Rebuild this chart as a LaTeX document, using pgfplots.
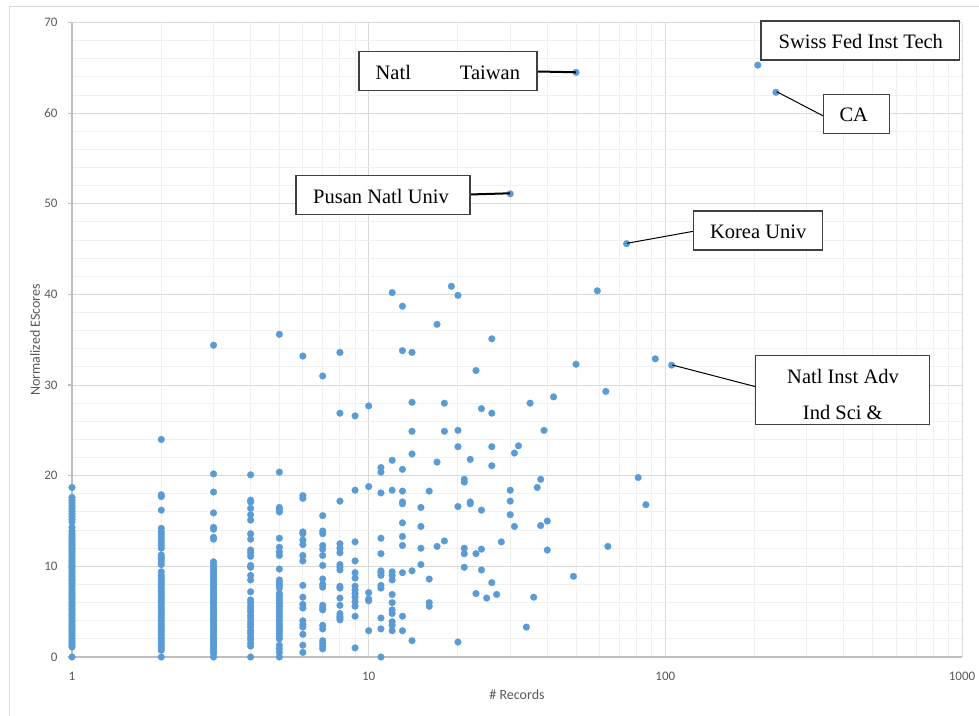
\documentclass[border=0pt]{standalone}
\usepackage{pgfplots}
\pgfplotsset{compat=1.18}
\usepackage{fontspec}
\setmainfont{Liberation Serif}
\newfontfamily\calib{Carlito}
\definecolor{ptblue}{HTML}{5B9BD5}
\definecolor{gridmaj}{HTML}{D9D9D9}
\definecolor{gridmin}{HTML}{F0F0F0}
\definecolor{axgray}{HTML}{BFBFBF}
\definecolor{tickgray}{HTML}{595959}
\definecolor{boxc}{HTML}{404040}
\begin{document}
\begin{tikzpicture}
\path[use as bounding box] (0,0) rectangle (489.5pt,358pt);
\begin{scope}[x=0.5pt,y=-0.5pt,yshift=358pt]
\draw[color=gridmaj,line width=0.5pt] (9,7) rectangle (1010,760);
\end{scope}
\begin{axis}[
  at={(36pt,29.5pt)}, anchor=south west,
  scale only axis, width=445pt, height=317.25pt,
  xmode=log, xmin=1, xmax=1000, ymin=0, ymax=70,
  xtick={1,10,100,1000}, xticklabels={1,10,100,1000},
  ytick={0,10,20,30,40,50,60,70},
  minor y tick num=4,
  grid=both,
  major grid style={color=gridmaj,line width=0.5pt},
  minor grid style={color=gridmin,line width=0.5pt},
  axis x line*=bottom, axis y line*=left,
  axis line style={draw=axgray,line width=1.1pt,-},
  tick align=outside,
  major tick length=2.2pt, minor tick length=0pt,
  tick style={color=axgray,line width=0.6pt},
  xtick style={draw=none},
  ticklabel style={font=\calib\fontsize{6.5}{7}\selectfont,text=tickgray},
  /pgf/number format/assume math mode=true,
  /pgf/number format/1000 sep={},
  yticklabel style={xshift=-1.5pt},
  xticklabel style={yshift=-2pt},
  xlabel={\# Records}, ylabel={Normalized EScores},
  label style={font=\calib\fontsize{7}{8}\selectfont,text=tickgray},
  xlabel style={at={(axis description cs:0.5,-0.0599)},anchor=center},
  ylabel style={at={(axis description cs:-0.0416,0.5)},anchor=center},
  clip mode=individual,
]
\addplot[only marks, mark=*, color=ptblue, mark size=1.7pt, mark options={fill=ptblue,draw=ptblue,line width=0.1pt}] coordinates {
(1,0) (1,1.1) (1,1.35) (1,1.6) (1,1.85) (1,2.1) (1,2.35) (1,2.6) (1,2.85) (1,3.1) (1,3.35) (1,3.6) (1,3.85) (1,4.1) (1,4.35) (1,4.6) (1,4.85) (1,5.1) (1,5.35) (1,5.6) (1,5.85) (1,6.1) (1,6.35) (1,6.6) (1,6.85) (1,7.1) (1,7.35) (1,7.6) (1,7.85) (1,8.1) (1,8.35) (1,8.6) (1,8.85) (1,9.1) (1,9.35) (1,9.6) (1,9.85) (1,10.1) (1,10.35) (1,10.6) (1,10.85) (1,11.1) (1,11.35) (1,11.6) (1,11.85) (1,12.1) (1,12.35) (1,12.6) (1,12.85) (1,13.1) (1,13.35) (1,13.6) (1,13.9) (1,14.3) (1,14.9) (1,15.2) (1,15.5) (1,15.8) (1,16.1) (1,16.4) (1,16.7) (1,17.0) (1,17.3) (1,17.6) (1,18.7)
(2,0) (2,0.75) (2,1.0) (2,1.25) (2,1.5) (2,1.75) (2,2.0) (2,2.25) (2,2.5) (2,2.75) (2,3.0) (2,3.25) (2,3.5) (2,3.75) (2,4.0) (2,4.25) (2,4.5) (2,4.75) (2,5.0) (2,5.25) (2,5.5) (2,5.75) (2,6.0) (2,6.25) (2,6.5) (2,6.75) (2,7.0) (2,7.25) (2,7.5) (2,7.75) (2,8.0) (2,8.25) (2,8.5) (2,8.75) (2,9.0) (2,9.4) (2,10.2) (2,10.5) (2,10.8) (2,11.0) (2,11.25) (2,12.0) (2,12.3) (2,12.6) (2,12.9) (2,13.2) (2,13.5) (2,13.8) (2,14.2) (2,16.2) (2,17.7) (2,17.9) (2,24.0)
(3,0) (3,0.4) (3,0.65) (3,0.9) (3,1.15) (3,1.4) (3,1.65) (3,1.9) (3,2.15) (3,2.4) (3,2.65) (3,2.9) (3,3.15) (3,3.4) (3,3.65) (3,3.9) (3,4.15) (3,4.4) (3,4.65) (3,4.9) (3,5.15) (3,5.4) (3,5.65) (3,5.9) (3,6.15) (3,6.4) (3,6.65) (3,6.9) (3,7.15) (3,7.4) (3,7.65) (3,7.9) (3,8.15) (3,8.4) (3,8.65) (3,8.9) (3,9.15) (3,9.4) (3,9.65) (3,9.9) (3,10.2) (3,10.5) (3,13.0) (3,13.2) (3,14.1) (3,14.3) (3,15.9) (3,18.2) (3,20.2) (3,34.4)
(4,0) (4,1.2) (4,1.5) (4,1.9) (4,2.2) (4,2.6) (4,2.9) (4,3.3) (4,3.6) (4,3.9) (4,4.3) (4,4.6) (4,5.0) (4,5.3) (4,5.6) (4,6.0) (4,6.3) (4,7.2) (4,8.5) (4,9.0) (4,9.9) (4,10.1) (4,11.1) (4,11.5) (4,11.8) (4,13.0) (4,13.6) (4,15.1) (4,15.7) (4,16.4) (4,17.1) (4,17.3) (4,20.1)
(5,0) (5,0.5) (5,0.9) (5,1.3) (5,2.0) (5,2.3) (5,2.6) (5,2.9) (5,3.2) (5,3.5) (5,3.8) (5,4.1) (5,4.4) (5,4.7) (5,5.0) (5,5.3) (5,5.6) (5,5.9) (5,6.2) (5,6.5) (5,6.8) (5,7.0) (5,7.6) (5,7.9) (5,8.2) (5,8.5) (5,9.7) (5,11.2) (5,11.6) (5,12.1) (5,13.1) (5,16.0) (5,16.3) (5,16.5) (5,20.4) (5,35.6)
(6,0.5) (6,1.3) (6,2.5) (6,3.3) (6,3.6) (6,4.0) (6,5.4) (6,5.8) (6,6.6) (6,7.9) (6,10.6) (6,11.2) (6,12.4) (6,12.9) (6,13.6) (6,13.8) (6,17.5) (6,17.8) (6,33.2)
(7,0.9) (7,1.2) (7,1.5) (7,1.8) (7,3.1) (7,3.5) (7,5.2) (7,5.4) (7,5.7) (7,7.7) (7,8.0) (7,8.6) (7,10.1) (7,11.2) (7,11.9) (7,12.3) (7,13.6) (7,13.9) (7,15.6) (7,31.0)
(8,4.1) (8,4.3) (8,4.5) (8,4.8) (8,5.7) (8,6.5) (8,7.6) (8,7.8) (8,9.6) (8,9.9) (8,10.2) (8,11.5) (8,12.0) (8,12.5) (8,17.2) (8,26.9) (8,33.6)
(9,1.0) (9,4.5) (9,5.6) (9,6.1) (9,6.6) (9,7.0) (9,7.4) (9,7.8) (9,8.7) (9,9.3) (9,10.6) (9,12.7) (9,18.4) (9,26.6)
(10,2.9) (10,6.2) (10,6.4) (10,7.1) (10,18.8) (10,27.7)
(11,0) (11,3.1) (11,4.3) (11,7.6) (11,7.9) (11,9.0) (11,9.3) (11,9.5) (11,11.4) (11,13.1) (11,18.1) (11,20.4) (11,20.9)
(12,2.9) (12,3.5) (12,3.9) (12,4.8) (12,5.2) (12,6.0) (12,6.9) (12,8.5) (12,9.0) (12,9.4) (12,18.4) (12,21.7) (12,40.2)
(13,2.9) (13,4.5) (13,9.3) (13,12.3) (13,13.3) (13,14.8) (13,16.9) (13,17.1) (13,18.3) (13,20.7) (13,33.8) (13,38.7)
(14,1.8) (14,9.5) (14,22.4) (14,24.9) (14,28.1) (14,33.6)
(15,10.2) (15,12.0) (15,14.4) (15,16.5)
(16,5.6) (16,6.0) (16,8.6) (16,18.3)
(17,12.2) (17,21.5) (17,36.7)
(18,12.8) (18,24.9) (18,28.0)
(19,40.9)
(20,1.65) (20,16.6) (20,23.2) (20,25.0) (20,39.9)
(21,9.9) (21,11.4) (21,12.0) (21,19.3) (21,19.6)
(22,16.9) (22,17.1) (22,21.8)
(23,7.0) (23,11.4) (23,31.6)
(24,9.6) (24,11.9) (24,16.2) (24,27.4)
(25,6.5)
(26,8.2) (26,21.1) (26,23.2) (26,26.9) (26,35.1)
(27,6.9) (28,12.7)
(30,15.7) (30,17.2) (30,18.4) (30,51.1)
(31,14.4) (31,22.5) (32,23.3) (34,3.3) (35,28.0) (36,6.6) (37,18.7)
(38,14.5) (38,19.6) (39,25.0) (40,11.8) (40,15.0) (42,28.7)
(49,8.9) (50,32.3) (50,64.5) (59,40.4) (63,29.3) (64,12.2) (74,45.6)
(81,19.8) (86,16.8) (92.5,32.9) (105,32.2) (205,65.3) (236,62.3)
};
\end{axis}
\begin{scope}[x=0.5pt,y=-0.5pt,yshift=358pt,lbl/.style={font=\fontsize{10.25}{12}\selectfont,anchor=base,inner sep=0pt}]
% connectors
\draw[black,line width=1pt] (537,71.5) -- (576,72.3);
\draw[black,line width=1pt] (470,194.5) -- (510,193.3);
\draw[black,line width=0.5pt] (776.7,91.7) -- (823.3,116);
\draw[black,line width=0.5pt] (627,243.3) -- (693.3,231.3);
\draw[black,line width=0.5pt] (672.3,365) -- (755.7,386.7);
% boxes
\draw[boxc,line width=0.75pt,fill=white] (359,51.7) rectangle (537,90.7);
\draw[boxc,line width=0.75pt,fill=white] (296,175.7) rectangle (470,214.3);
\draw[boxc,line width=0.75pt,fill=white] (761,21) rectangle (959.7,60);
\draw[boxc,line width=0.75pt,fill=white] (823.3,94.7) rectangle (889.3,133.3);
\draw[boxc,line width=0.75pt,fill=white] (693.3,211) rectangle (822.3,250);
\draw[boxc,line width=0.75pt,fill=white] (755.7,355.7) rectangle (929.3,424.3);
% texts
\node[lbl] at (393.3,79.3) {Natl};
\node[lbl] at (490,79.3) {Taiwan};
\node[lbl] at (381,203.3) {Pusan Natl Univ};
\node[lbl] at (860.8,48.3) {Swiss Fed Inst Tech};
\node[lbl] at (853.8,121.7) {CA};
\node[lbl] at (758.2,238.3) {Korea Univ};
\node[lbl] at (843,383.3) {Natl Inst Adv};
\node[lbl] at (842.8,420) {Ind Sci \&};
\end{scope}
\end{tikzpicture}
\end{document}
